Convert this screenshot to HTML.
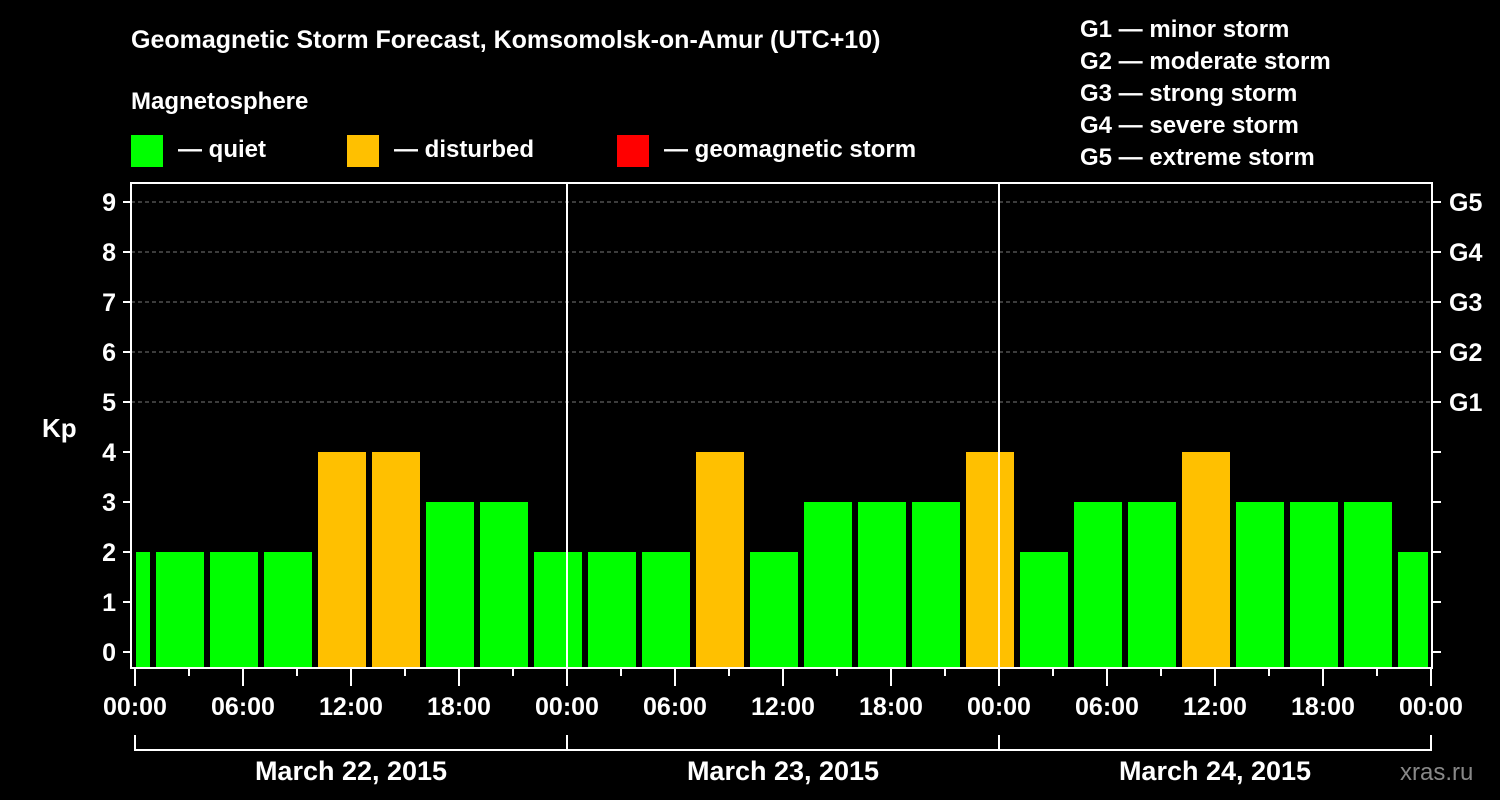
<!DOCTYPE html>
<html><head><meta charset="utf-8"><style>
body{margin:0;background:#000;width:1500px;height:800px;overflow:hidden}
svg{display:block;font-family:"Liberation Sans",Arial,sans-serif;font-weight:bold}
</style></head><body>
<svg id="chart" width="1500" height="800">
<text x="131" y="48" font-size="25" fill="#fff">Geomagnetic Storm Forecast, Komsomolsk-on-Amur (UTC+10)</text>
<text x="131" y="109" font-size="24" fill="#fff">Magnetosphere</text>
<g><rect x="131" y="135" width="32" height="32" fill="#00ff00"/><text x="178" y="157" font-size="24" fill="#fff">— quiet</text></g>
<g><rect x="347" y="135" width="32" height="32" fill="#ffc000"/><text x="394" y="157" font-size="24" fill="#fff">— disturbed</text></g>
<g><rect x="617" y="135" width="32" height="32" fill="#ff0000"/><text x="664" y="157" font-size="24" fill="#fff">— geomagnetic storm</text></g>
<g font-size="24" fill="#fff">
<text x="1080" y="37">G1 — minor storm</text>
<text x="1080" y="69">G2 — moderate storm</text>
<text x="1080" y="101">G3 — strong storm</text>
<text x="1080" y="133">G4 — severe storm</text>
<text x="1080" y="165">G5 — extreme storm</text>
</g>
<text x="1400" y="780" font-size="24" fill="#888" font-weight="normal">xras.ru</text>
<text x="42" y="437" font-size="26" fill="#fff">Kp</text>
<g id="grid"></g><g id="bars"></g><g id="axes"></g>
</svg>
<script>
const kpValues=[2,2,2,2,4,4,3,3,2, 2,2,4,2,3,3,3,4, 2,3,3,4,3,3,3,2];
const startHours=[-2,1,4,7,10,13,16,19,22,25,28,31,34,37,40,43,46,49,52,55,58,61,64,67,70];
const dayLabels=["March 22, 2015","March 23, 2015","March 24, 2015"];
const hourLabels=["00:00","06:00","12:00","18:00"];
const gLabels=["G1","G2","G3","G4","G5"];
const NS="http://www.w3.org/2000/svg";
const X0=135,PXH=18,Y0=652,PXK=50,LEFT=131,RIGHT=1432,TOP=183,BOT=668;
const xs=h=>X0+h*PXH, ys=k=>Y0-k*PXK;
function mk(t,a,p){const e=document.createElementNS(NS,t);for(const k in a)e.setAttribute(k,a[k]);p.appendChild(e);return e;}
const grid=document.getElementById('grid'),bars=document.getElementById('bars'),axes=document.getElementById('axes');
for(let k=5;k<=9;k++){const l=mk('line',{x1:LEFT,x2:RIGHT,y1:ys(k),y2:ys(k),stroke:'#777','stroke-dasharray':'4,3'},grid);

}
kpValues.forEach((v,i)=>{let a=Math.max(xs(startHours[i])+3,136),b=Math.min(xs(startHours[i])+51,1428);
const c=v>=5?'#ff0000':(v>=4?'#ffc000':'#00ff00');
const r=mk('rect',{x:a,y:ys(v),width:b-a,height:667-ys(v),fill:c},bars);

});
mk('rect',{x:LEFT,y:TOP,width:RIGHT-LEFT,height:BOT-TOP,fill:'none',stroke:'#fff','stroke-width':2},axes);
for(let d=1;d<3;d++)mk('line',{x1:xs(24*d),x2:xs(24*d),y1:TOP,y2:BOT,stroke:'#fff','stroke-width':2},axes);
for(let k=0;k<=9;k++){mk('line',{x1:123,x2:LEFT,y1:ys(k),y2:ys(k),stroke:'#fff','stroke-width':2},axes);
mk('line',{x1:RIGHT,x2:1441,y1:ys(k),y2:ys(k),stroke:'#fff','stroke-width':2},axes);
const t=mk('text',{x:116,y:ys(k)+9,'font-size':25,fill:'#fff','text-anchor':'end'},axes);t.textContent=k;

}
gLabels.forEach((g,i)=>{const t=mk('text',{x:1449,y:ys(i+5)+9,'font-size':25,fill:'#fff'},axes);t.textContent=g;

});
for(let h=0;h<=72;h+=3){const maj=h%6===0;mk('line',{x1:xs(h),x2:xs(h),y1:BOT,y2:maj?686:676,stroke:'#fff','stroke-width':2},axes);
if(maj){const t=mk('text',{x:xs(h),y:715,'font-size':25,fill:'#fff','text-anchor':'middle'},axes);t.textContent=hourLabels[(h/6)%4];

}}
dayLabels.forEach((d,i)=>{const a=xs(24*i),b=xs(24*(i+1));
mk('path',{d:`M${a} 735V750H${b}V735`,stroke:'#fff','stroke-width':2,fill:'none'},axes);
const t=mk('text',{x:(a+b)/2,y:780,'font-size':27,fill:'#fff','text-anchor':'middle'},axes);t.textContent=d;

});
</script>
</body></html>
